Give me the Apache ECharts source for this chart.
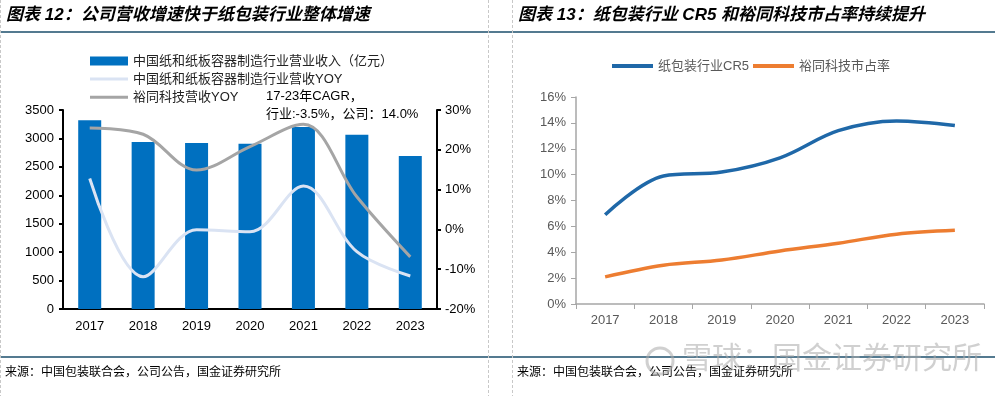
<!DOCTYPE html>
<html>
<head>
<meta charset="utf-8">
<script src="https://cdn.jsdelivr.net/npm/echarts@6/dist/echarts.min.js"></script>
<style>html,body{margin:0;padding:0;background:#fff;}#c{width:995px;height:396px;}</style>
</head>
<body>
<div id="c"></div>
<script>
var years = ['2017','2018','2019','2020','2021','2022','2023'];
var industryRevenue = [3320, 2937, 2920, 2907, 3201, 3066, 2691];
var industryYoy = [12.8, -11.9, -0.1, -0.6, 10.9, -5.6, -11.7];
var yutongYoy = [25.5, 23.9, 14.9, 20.8, 26.4, 8.2, -6.9];
var cr5 = [6.9, 9.9, 10.2, 11.3, 13.4, 14.15, 13.8];
var yutongShare = [2.1, 3.0, 3.4, 4.1, 4.7, 5.4, 5.7];
var leftTicks = [0, 3500, 500];
var rightTicks = [-20, 30, 10];
var shareTicks = [0, 16, 2];

var cjk = '"Liberation Sans","Noto Sans CJK SC",sans-serif';
var chart = echarts.init(document.getElementById('c'), null, {renderer: 'canvas'});
var option = {
  animation: false,
  textStyle: {fontFamily: cjk},
  grid: [
    {left: 63, right: 558, top: 110, bottom: 87},
    {left: 576, right: 11, top: 97, bottom: 92}
  ],
  legend: [
    {
      orient: 'vertical', left: 90, top: 54, padding: 0, itemWidth: 38, itemHeight: 9, itemGap: 5,
      data: [{name: '中国纸和纸板容器制造行业营业收入（亿元）', icon: 'rect'}],
      textStyle: {fontSize: 13, color: '#222', lineHeight: 14, fontFamily: cjk}
    },
    {
      orient: 'vertical', left: 90, top: 72, padding: 0, itemWidth: 38, itemHeight: 3, itemGap: 4.3,
      data: [{name: '中国纸和纸板容器制造行业营收YOY', icon: 'rect'}, {name: '裕同科技营收YOY', icon: 'rect'}],
      textStyle: {fontSize: 13, color: '#222', lineHeight: 14, fontFamily: cjk}
    },
    {
      orient: 'horizontal', left: 612, top: 59, padding: 0, itemWidth: 41, itemHeight: 4, itemGap: 4,
      data: [{name: '纸包装行业CR5', icon: 'rect'}, {name: '裕同科技市占率', icon: 'rect'}],
      textStyle: {fontSize: 13, color: '#595959', lineHeight: 14, fontFamily: cjk}
    }
  ],
  xAxis: [
    {
      type: 'category', gridIndex: 0, data: years,
      axisLine: {lineStyle: {color: '#000', width: 2}},
      axisTick: {show: false},
      axisLabel: {color: '#000', fontSize: 13, margin: 11, fontFamily: cjk}
    },
    {
      type: 'category', gridIndex: 1, data: years,
      axisLine: {lineStyle: {color: '#a6a6a6', width: 1.5}},
      axisTick: {show: true, length: 5, lineStyle: {color: '#a6a6a6'}},
      axisLabel: {color: '#595959', fontSize: 13, margin: 10, fontFamily: cjk}
    }
  ],
  yAxis: [
    {
      type: 'value', gridIndex: 0, min: leftTicks[0], max: leftTicks[1], interval: leftTicks[2],
      axisLine: {show: true, lineStyle: {color: '#000', width: 2}},
      axisTick: {show: true, length: 4, lineStyle: {color: '#000', width: 2}},
      splitLine: {show: false},
      axisLabel: {color: '#000', fontSize: 13, margin: 9, fontFamily: cjk, formatter: function (v) { return String(v); }}
    },
    {
      type: 'value', gridIndex: 0, position: 'right', min: rightTicks[0], max: rightTicks[1], interval: rightTicks[2],
      axisLine: {show: true, lineStyle: {color: '#000', width: 2}},
      axisTick: {show: true, length: 4, lineStyle: {color: '#000', width: 2}},
      splitLine: {show: false},
      axisLabel: {color: '#000', fontSize: 13, margin: 8, formatter: '{value}%', fontFamily: cjk}
    },
    {
      type: 'value', gridIndex: 1, min: shareTicks[0], max: shareTicks[1], interval: shareTicks[2],
      axisLine: {show: true, lineStyle: {color: '#a6a6a6', width: 1.5}},
      axisTick: {show: true, length: 5, lineStyle: {color: '#a6a6a6'}},
      splitLine: {show: false},
      axisLabel: {color: '#595959', fontSize: 13, margin: 10, formatter: '{value}%', fontFamily: cjk}
    }
  ],
  series: [
    {
      name: '中国纸和纸板容器制造行业营业收入（亿元）', type: 'bar', xAxisIndex: 0, yAxisIndex: 0,
      data: industryRevenue, barWidth: 23, itemStyle: {color: '#0070c0'}
    },
    {
      name: '中国纸和纸板容器制造行业营收YOY', type: 'line', xAxisIndex: 0, yAxisIndex: 1,
      data: industryYoy, smooth: 0.35, symbol: 'none',
      lineStyle: {color: '#dae3f3', width: 3}, itemStyle: {color: '#dae3f3'}
    },
    {
      name: '裕同科技营收YOY', type: 'line', xAxisIndex: 0, yAxisIndex: 1,
      data: yutongYoy, smooth: 0.35, symbol: 'none',
      lineStyle: {color: '#a5a5a5', width: 3}, itemStyle: {color: '#a5a5a5'}
    },
    {
      name: '纸包装行业CR5', type: 'line', xAxisIndex: 1, yAxisIndex: 2,
      data: cr5, smooth: 0.35, symbol: 'none',
      lineStyle: {color: '#1f68a8', width: 3.5}, itemStyle: {color: '#1f68a8'}
    },
    {
      name: '裕同科技市占率', type: 'line', xAxisIndex: 1, yAxisIndex: 2,
      data: yutongShare, smooth: 0.35, symbol: 'none',
      lineStyle: {color: '#ed7d31', width: 3.5}, itemStyle: {color: '#ed7d31'}
    }
  ],
  graphic: [
    {type: 'line', shape: {x1: 0, y1: 32, x2: 995, y2: 32}, style: {stroke: '#1b4e6b', lineWidth: 1.5}},
    {type: 'line', shape: {x1: 0, y1: 357, x2: 995, y2: 357}, style: {stroke: '#1b4e6b', lineWidth: 1.5}},
    {type: 'line', shape: {x1: 0.5, y1: 0, x2: 0.5, y2: 396}, style: {stroke: '#c8c8c8', lineWidth: 1, lineDash: [3, 2]}},
    {type: 'line', shape: {x1: 488.5, y1: 0, x2: 488.5, y2: 396}, style: {stroke: '#c8c8c8', lineWidth: 1, lineDash: [3, 2]}},
    {type: 'line', shape: {x1: 512.5, y1: 0, x2: 512.5, y2: 396}, style: {stroke: '#c8c8c8', lineWidth: 1, lineDash: [3, 2]}},
    {type: 'text', left: 6, top: 7, style: {text: '图表 12：公司营收增速快于纸包装行业整体增速', fontSize: 17, fontWeight: 'bold', fontStyle: 'italic', fill: '#000', fontFamily: cjk}},
    {type: 'text', left: 518, top: 7, style: {text: '图表 13：纸包装行业 CR5 和裕同科技市占率持续提升', fontSize: 17, fontWeight: 'bold', fontStyle: 'italic', fill: '#000', fontFamily: cjk}},
    {type: 'text', left: 266, top: 90, style: {text: '17-23年CAGR，', fontSize: 13, fill: '#000', fontFamily: cjk}},
    {type: 'text', left: 266, top: 108, style: {text: '行业:-3.5%，公司：14.0%', fontSize: 13, fill: '#000', fontFamily: cjk}},
    {type: 'text', left: 5, top: 367, style: {text: '来源：中国包装联合会，公司公告，国金证券研究所', fontSize: 12, fill: '#000', fontFamily: cjk}},
    {type: 'text', left: 517, top: 367, style: {text: '来源：中国包装联合会，公司公告，国金证券研究所', fontSize: 12, fill: '#000', fontFamily: cjk}},
    {type: 'circle', shape: {cx: 660, cy: 361, r: 13}, style: {fill: 'none', stroke: 'rgba(170,170,170,0.55)', lineWidth: 3}},
    {type: 'text', left: 682, top: 345, style: {text: '雪球：国金证券研究所', fontSize: 30, fill: 'rgba(170,170,170,0.55)', fontFamily: cjk}}
  ]
};
chart.setOption(option);
</script>
</body>
</html>
